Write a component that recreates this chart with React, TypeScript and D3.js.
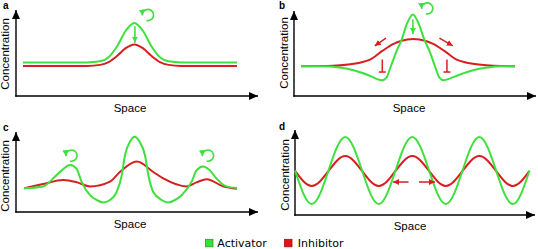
import React from 'react';
import * as d3 from 'd3';

// ---------- data (space units 0-100, concentration units 0-100) ----------
const aSpace = [0, 30, 36, 40, 44, 48, 52, 56, 60, 64, 68, 74, 100];
const aActivator = [39, 39, 40.3, 45.2, 57.9, 75.9, 85, 75.9, 57.9, 45.2, 40.3, 39, 39];
const aInhibitor = [35, 35, 36.2, 39.5, 46.7, 55.7, 60, 55.7, 46.7, 39.5, 36.2, 35, 35];

const bActSpace = [0, 10, 18, 25, 31, 35, 37.8, 40, 42, 44.5, 47, 49.5, 52.3, 55, 57.7, 60.2, 62.6, 64.6, 66.8, 69.5, 74, 80, 87, 93, 100];
const bActivator = [35, 35, 33.5, 30, 25, 20.5, 18.5, 22, 35, 52, 66, 85, 96, 85, 66, 52, 35, 22, 18.5, 20.5, 25, 30, 33.5, 35, 35];
const bInhSpace = [0, 15, 22, 28, 32, 38, 43, 47, 52.5, 58, 62, 67, 73, 77, 83, 90, 100];
const bInhibitor = [35, 35.5, 37, 39.5, 42.4, 53, 61, 65, 67, 65, 61, 53, 42.4, 39.5, 37, 35.5, 35];

const cActSpace = [0, 9, 14.5, 17.7, 21.6, 24.7, 27, 31, 34.1, 37.2, 40.4, 43.5, 45.9, 47.4, 49.8, 52, 54.2, 56.8, 58.4, 60.7, 64.6, 67.7, 70.9, 74, 78.7, 81, 84, 87.3, 89.7, 95, 100];
const cActivator = [29.6, 32, 44, 52, 58.8, 54, 38, 21, 15, 12, 15, 25, 46, 71, 88, 94, 88, 71, 46, 25, 15, 12, 15, 21, 38, 52, 57, 52, 44, 32, 30];
const cInhSpace = [0, 9, 18.5, 25, 31, 40.4, 45, 53, 60.7, 65.4, 76.4, 81, 85.8, 93.5, 100];
const cInhibitor = [29.6, 35, 40, 37, 32, 38, 50, 63, 50, 42, 32, 37, 41, 32, 29];

const dSpace = [0, 7.04, 14.08, 21.12, 28.16, 35.2, 42.24, 49.28, 56.32, 63.36, 70.4, 77.44, 84.48, 91.52, 98.56];
const dActivator = [52.3, 12.8, 52.3, 91.8, 52.3, 12.8, 52.3, 91.8, 52.3, 12.8, 52.3, 91.8, 52.3, 12.8, 52.3];
const dInhibitor = [51.8, 34.2, 51.8, 69.4, 51.8, 34.2, 51.8, 69.4, 51.8, 34.2, 51.8, 69.4, 51.8, 34.2, 51.8];

const legendLabels = ['Activator', 'Inhibitor'];
const panelLabels = ['a', 'b', 'c', 'd'];
const xTitle = 'Space';
const yTitle = 'Concentration';

const GREEN = '#3ee03e';
const RED = '#d81e1e';
const AXIS_FONT = '"Liberation Sans", Arial, sans-serif';

type Panel = {
  label: string;
  axisX: number; axisBottom: number; axisTop: number; axisRight: number;
  x0: number; x1: number;
  labelX: number; labelY: number;
  xTitleX: number; xTitleY: number;
  yTitleX: number; yTitleY: number;
  act: { s: number[]; v: number[] };
  inh: { s: number[]; v: number[] };
  curve: d3.CurveFactory;
};

const panels: Panel[] = [
  { label: panelLabels[0], axisX: 16, axisBottom: 96, axisTop: 10, axisRight: 258, x0: 23, x1: 237,
    labelX: 3, labelY: 9, xTitleX: 130, xTitleY: 112, yTitleX: 8.5, yTitleY: 54,
    act: { s: aSpace, v: aActivator }, inh: { s: aSpace, v: aInhibitor }, curve: d3.curveMonotoneX },
  { label: panelLabels[1], axisX: 294, axisBottom: 96, axisTop: 11, axisRight: 536, x0: 301, x1: 515,
    labelX: 279, labelY: 9, xTitleX: 409, xTitleY: 112, yTitleX: 287.5, yTitleY: 53,
    act: { s: bActSpace, v: bActivator }, inh: { s: bInhSpace, v: bInhibitor }, curve: d3.curveMonotoneX },
  { label: panelLabels[2], axisX: 16, axisBottom: 212, axisTop: 132, axisRight: 258, x0: 24, x1: 237,
    labelX: 3, labelY: 131, xTitleX: 130, xTitleY: 228, yTitleX: 8.5, yTitleY: 176,
    act: { s: cActSpace, v: cActivator }, inh: { s: cInhSpace, v: cInhibitor }, curve: d3.curveMonotoneX },
  { label: panelLabels[3], axisX: 295, axisBottom: 215, axisTop: 130, axisRight: 535, x0: 295, x1: 533,
    labelX: 279, labelY: 130, xTitleX: 410, xTitleY: 230, yTitleX: 289, yTitleY: 175,
    act: { s: dSpace, v: dActivator }, inh: { s: dSpace, v: dInhibitor }, curve: d3.curveNatural },
];

function scalesFor(p: Panel) {
  const x = d3.scaleLinear().domain([0, 100]).range([p.x0, p.x1]);
  const y = d3.scaleLinear().domain([0, 100]).range([p.axisBottom, p.axisTop]);
  return { x, y };
}

function loopArrow(cx: number, cy: number, r: number, color: string, marker: string) {
  const a0 = (105 * Math.PI) / 180;
  const sx = cx + r * Math.cos(a0);
  const sy = cy + r * Math.sin(a0);
  const ex = cx - r;
  const ey = cy + 0.5;
  return (
    <path d={`M${sx},${sy} A${r},${r} 0 1 0 ${ex},${ey}`} fill="none" stroke={color} strokeWidth={1.6} markerEnd={`url(#${marker})`} />
  );
}

export default function App() {
  return (
    <div style={{ position: 'absolute', left: 0, top: 0 }}>
      <svg width={538} height={249} viewBox="0 0 538 249" style={{ display: 'block', background: '#fff' }}>
        <defs>
          <marker id="axHead" markerUnits="userSpaceOnUse" markerWidth={9} markerHeight={8} refX={9} refY={4} orient="auto">
            <path d="M0,0 L9,4 L0,8 z" fill="#000" />
          </marker>
          <marker id="gHead" markerUnits="userSpaceOnUse" markerWidth={6} markerHeight={6} refX={6} refY={3} orient="auto">
            <path d="M0,0 L6,3 L0,6 z" fill={GREEN} />
          </marker>
          <marker id="rHead" markerUnits="userSpaceOnUse" markerWidth={6} markerHeight={6} refX={6} refY={3} orient="auto">
            <path d="M0,0 L6,3 L0,6 z" fill={RED} />
          </marker>
        </defs>

        {panels.map((p) => {
          const { x, y } = scalesFor(p);
          const mk = (s: number[], v: number[]) =>
            d3.line<number>().x((d, i) => x(s[i])).y((d) => y(d)).curve(p.curve)(v) || '';
          return (
            <g key={p.label}>
              <line x1={p.axisX} y1={p.axisBottom + 0.7} x2={p.axisX} y2={p.axisTop} stroke="#000" strokeWidth={1.4} markerEnd="url(#axHead)" />
              <line x1={p.axisX - 0.7} y1={p.axisBottom} x2={p.axisRight} y2={p.axisBottom} stroke="#000" strokeWidth={1.4} markerEnd="url(#axHead)" />
              <path d={mk(p.inh.s, p.inh.v)} fill="none" stroke={RED} strokeWidth={2} />
              <path d={mk(p.act.s, p.act.v)} fill="none" stroke={GREEN} strokeWidth={2} />
              <text x={p.labelX} y={p.labelY} fontFamily={AXIS_FONT} fontWeight="bold" fontSize={10}>{p.label}</text>
              <text x={p.xTitleX} y={p.xTitleY} textAnchor="middle" fontFamily={AXIS_FONT} fontSize={11.5}>{xTitle}</text>
              <text transform={`translate(${p.yTitleX},${p.yTitleY}) rotate(-90)`} textAnchor="middle" fontFamily={AXIS_FONT} fontSize={11.5}>{yTitle}</text>
            </g>
          );
        })}

        {(() => {
          const { x, y } = scalesFor(panels[0]);
          return (
            <g>
              <line x1={x(52.3)} y1={y(81)} x2={x(52.3)} y2={y(62)} stroke={GREEN} strokeWidth={1.6} markerEnd="url(#gHead)" />
              {loopArrow(x(58.4), y(94.2), 5.6, GREEN, 'gHead')}
            </g>
          );
        })()}

        {(() => {
          const { x, y } = scalesFor(panels[1]);
          return (
            <g>
              <line x1={x(52.3)} y1={y(90)} x2={x(52.3)} y2={y(73)} stroke={GREEN} strokeWidth={1.6} markerEnd="url(#gHead)" />
              {loopArrow(x(59), y(103), 5.6, GREEN, 'gHead')}
              <line x1={x(39.7)} y1={y(68.2)} x2={x(34.5)} y2={y(59)} stroke={RED} strokeWidth={1.5} markerEnd="url(#rHead)" />
              <line x1={x(64.7)} y1={y(68.2)} x2={x(70.9)} y2={y(59)} stroke={RED} strokeWidth={1.5} markerEnd="url(#rHead)" />
              {[38, 68.2].map((s) => (
                <g key={s}>
                  <line x1={x(s)} y1={y(43)} x2={x(s)} y2={y(28.2)} stroke={RED} strokeWidth={1.5} />
                  <line x1={x(s) - 3.5} y1={y(28.2)} x2={x(s) + 3.5} y2={y(28.2)} stroke={RED} strokeWidth={1.5} />
                </g>
              ))}
            </g>
          );
        })()}

        {(() => {
          const { x, y } = scalesFor(panels[2]);
          return (
            <g>
              {loopArrow(x(22.3), y(70.5), 5.6, GREEN, 'gHead')}
              {loopArrow(x(86.4), y(70.5), 5.6, GREEN, 'gHead')}
            </g>
          );
        })()}

        {(() => {
          const { x, y } = scalesFor(panels[3]);
          return (
            <g>
              <line x1={x(47.7)} y1={y(38.8)} x2={x(41.2)} y2={y(38.8)} stroke={RED} strokeWidth={1.5} markerEnd="url(#rHead)" />
              <line x1={x(52.1)} y1={y(38.8)} x2={x(58.8)} y2={y(38.8)} stroke={RED} strokeWidth={1.5} markerEnd="url(#rHead)" />
            </g>
          );
        })()}

        <g fontFamily='"DejaVu Sans", Verdana, sans-serif' fontSize={11}>
          <rect x={205.5} y={239.3} width={7.5} height={7.5} fill="#39e039" stroke="#20a020" strokeWidth={0.8} />
          <text x={217.3} y={246.8}>{legendLabels[0]}</text>
          <rect x={284.5} y={239.3} width={7.5} height={7.5} fill="#e01414" stroke="#a01010" strokeWidth={0.8} />
          <text x={297.7} y={246.8}>{legendLabels[1]}</text>
        </g>
      </svg>
    </div>
  );
}
